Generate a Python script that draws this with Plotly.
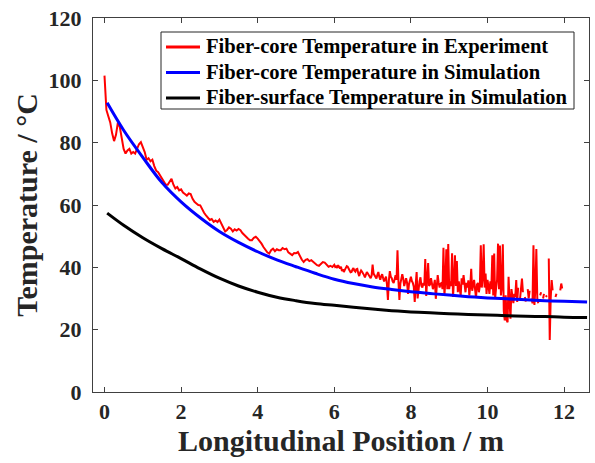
import numpy as np
import plotly.graph_objects as go

# Experiment: fiber-core temperature.
# 0-5.95 m sampled every 0.05 m, 6-12 m sampled every 0.025 m; None = gaps in the record
exp_x = [round(0.05 * i, 3) for i in range(120)] + [round(6 + 0.025 * i, 3) for i in range(241)]
exp_y = [
    # 0.00 - 5.95 m
    101.5, 90.5, 88.5, 86.5, 83.0, 80.5, 82.5, 86.5, 85.0, 81.0,
    78.0, 76.5, 77.5, 78.0, 76.5, 77.0, 76.5, 78.0, 79.5, 80.2,
    78.5, 77.0, 74.5, 75.0, 74.0, 74.5, 72.5, 71.0, 70.5, 69.5,
    68.5, 67.5, 66.5, 66.5, 67.5, 68.4, 66.5, 65.3, 65.8, 64.7,
    65.0, 64.0, 63.5, 63.0, 63.7, 63.5, 62.0, 61.0, 60.5, 60.0,
    59.9, 58.5, 57.5, 56.7, 56.0, 55.2, 55.5, 54.6, 55.0, 54.5,
    55.3, 54.0, 52.5, 51.5, 52.0, 52.8, 52.4, 51.5, 52.2, 51.8,
    52.3, 51.9, 51.0, 50.3, 49.8, 49.2, 48.7, 48.7, 49.5, 49.8,
    49.2, 48.5, 47.6, 46.5, 45.5, 44.8, 44.4, 45.5, 46.0, 45.2,
    45.8, 45.5, 45.5, 46.2, 45.8, 46.0, 44.8, 44.2, 43.9, 44.6,
    44.5, 44.9, 43.5, 42.5, 41.7, 42.4, 42.6, 42.0, 42.3, 41.8,
    41.0, 40.7, 40.5, 41.2, 41.7, 41.5, 40.8, 40.2, 40.5, 40.1,
    # 6.000 - 12.000 m
    40.8, 40.1, 40.3, 39.8, 40.7, 40.0, 39.6, 40.2, 38.8, 39.4,
    38.5, 39.2, 39.8, 40.4, 40.2, 39.3, 39.0, 38.4, 38.5, 39.3,
    39.8, 38.9, 38.6, 39.4, 39.5, 38.1, 37.2, 38.3, 39.0, 38.6,
    38.2, 37.5, 36.8, 37.9, 38.5, 38.0, 37.5, 36.9, 36.5, 37.4,
    40.9, 38.0, 37.5, 36.8, 36.4, 37.6, 38.5, 37.0, 36.0, 37.2,
    37.8, 36.5, 35.5, 36.3, 37.0, 34.5, 29.5, 35.8, 38.8, 37.0,
    36.5, 35.4, 35.0, 36.2, 37.5, 36.0, 45.5, 35.5, 29.5, 34.8,
    36.0, 37.8, 36.4, 34.0, 35.2, 36.5, 35.0, 31.5, 34.6, 36.2,
    37.0, 35.6, 35.0, 33.8, 28.9, 34.5, 38.5, 30.0, 34.5, 35.5,
    36.8, 34.0, 33.5, 35.0, 34.2, 42.7, 30.8, 35.6, 41.4, 34.0,
    34.5, 36.5, 35.0, 33.0, 34.2, 36.0, 29.9, 34.5, 37.5, 35.0,
    33.5, 34.8, 35.0, 33.0, 46.3, 31.0, 35.5, 45.8, 33.0, 47.5,
    33.0, 35.5, 34.0, 44.5, 30.5, 36.0, 43.9, 34.0, 42.0, 32.0,
    35.5, 33.0, 31.0, 36.5, 34.5, 37.5, 33.0, 32.0, 35.0, 33.5,
    35.8, 31.0, 34.0, 39.5, 32.5, 35.0, 36.0, 33.0, 30.2, 34.5,
    35.0, 32.0, 34.0, 47.1, 33.5, 36.5, 47.4, 33.5, 38.0, 31.5,
    36.0, 34.0, 31.5, 35.5, 33.0, 43.9, 31.0, 44.4, 30.0, 33.5,
    36.0, 47.6, 33.0, 47.0, 31.0, 34.0, 47.4, 26.0, 23.0, 31.0,
    23.0, 22.4, 37.0, 29.0, 23.5, 33.0, 30.0, 28.5, 31.5, 30.5,
    35.9, 28.9, 33.5, None, 30.0, 33.0, 36.4, 32.0, None, 30.5,
    29.0, None, 33.0, 30.0, 32.5, None, 30.0, 28.5, 47.1, 27.9,
    33.0, 45.9, 30.0, 28.5, None, 31.0, 32.0, None, 30.0, 31.5,
    None, 30.5, 31.0, None, 42.8, 16.7, 30.0, 35.9, 32.6, None,
    None, 30.5, 31.5, None, None, None, 32.6, 34.8, 33.2, None,
    None,
]

# Simulation curves
sim_x = [0.07, 0.5, 1.0, 1.5, 2.0, 2.5, 3.0, 3.5, 4.0, 4.5, 5.0, 5.5, 6.0,
         6.5, 7.0, 7.5, 8.0, 8.5, 9.0, 9.5, 10.0, 10.5, 11.0, 11.5, 12.0, 12.6]
core_sim = [92.8, 84.0, 75.3, 67.2, 61.0, 55.9, 51.5, 48.0, 45.0, 42.4, 40.2, 38.1, 36.2,
            34.8, 33.7, 32.9, 32.2, 31.6, 31.1, 30.6, 30.2, 29.9, 29.6, 29.3, 29.1, 28.9]
surface_sim = [57.4, 53.5, 49.5, 46.0, 42.8, 39.5, 36.5, 34.0, 32.0, 30.4, 29.3, 28.4, 27.8,
               27.2, 26.6, 26.1, 25.7, 25.4, 25.1, 24.9, 24.7, 24.5, 24.3, 24.2, 24.0, 23.9]

names = ["Fiber-core Temperature in Experiment",
         "Fiber-core Temperature in Simulation",
         "Fiber-surface Temperature in Simulation"]
colors = ["#ff0000", "#0000ff", "#000000"]
x_ticks = [0, 2, 4, 6, 8, 10, 12]
y_ticks = [0, 20, 40, 60, 80, 100, 120]

FONT = "Liberation Serif"
AX = "#404040"
W, H = 595, 463
ML, MR, MT, MB = 93, 6, 18, 71
PW, PH = W - ML - MR, H - MT - MB


def px2paper_x(px):
    return (px - ML) / PW


def px2paper_y(py):
    return (H - MB - py) / PH


fig = go.Figure()
fig.add_trace(go.Scatter(x=exp_x, y=exp_y, mode="lines", name=names[0],
                         line=dict(color=colors[0], width=2), connectgaps=False,
                         showlegend=False))
fig.add_trace(go.Scatter(x=sim_x, y=core_sim, mode="lines", name=names[1],
                         line=dict(color=colors[1], width=3, shape="spline"),
                         showlegend=False))
fig.add_trace(go.Scatter(x=sim_x, y=surface_sim, mode="lines", name=names[2],
                         line=dict(color=colors[2], width=3, shape="spline"),
                         showlegend=False))

# Legend box (drawn by hand to match the compact row spacing)
shapes = [dict(type="rect", xref="paper", yref="paper",
               x0=px2paper_x(161), x1=px2paper_x(574),
               y0=px2paper_y(109), y1=px2paper_y(32),
               line=dict(color="#262626", width=1), fillcolor="white", layer="above")]
annotations = []
row_y = [47, 72.5, 98]
for name, col, ry in zip(names, colors, row_y):
    shapes.append(dict(type="line", xref="paper", yref="paper",
                       x0=px2paper_x(166), x1=px2paper_x(200),
                       y0=px2paper_y(ry), y1=px2paper_y(ry),
                       line=dict(color=col, width=3), layer="above"))
    annotations.append(dict(text=name, xref="paper", yref="paper",
                            x=px2paper_x(204), y=px2paper_y(ry),
                            xanchor="left", yanchor="middle", showarrow=False,
                            font=dict(family=FONT, size=20.6, color="black", weight="bold")))

fig.update_layout(
    width=W, height=H,
    margin=dict(l=ML, r=MR, t=MT, b=MB),
    paper_bgcolor="white", plot_bgcolor="white",
    font=dict(family=FONT, color="#262626"),
    showlegend=False,
    shapes=shapes, annotations=annotations,
)
fig.update_xaxes(
    range=[-0.3, 12.65], tickvals=x_ticks, ticktext=[str(v) for v in x_ticks],
    showgrid=False, zeroline=False, showline=True, linecolor=AX, linewidth=1,
    mirror="ticks", ticks="inside", ticklen=5, tickcolor=AX, automargin=False,
    tickfont=dict(family=FONT, size=22, color="#262626", weight="bold"),
    title=dict(text="Longitudinal Position / m", standoff=4,
               font=dict(family=FONT, size=30, color="#262626", weight="bold")),
)
fig.update_yaxes(
    range=[0, 120], tickvals=y_ticks, ticktext=[str(v) for v in y_ticks],
    showgrid=False, zeroline=False, showline=True, linecolor=AX, linewidth=1,
    mirror="ticks", ticks="inside", ticklen=5, tickcolor=AX, automargin=False,
    ticklabelstandoff=6,
    tickfont=dict(family=FONT, size=22, color="#262626", weight="bold"),
    title=dict(text="Temperature / °C", standoff=2,
               font=dict(family=FONT, size=30, color="#262626", weight="bold")),
)

fig.write_html("out.html", config={"displayModeBar": False},
               post_script="document.body.style.margin='0';")
